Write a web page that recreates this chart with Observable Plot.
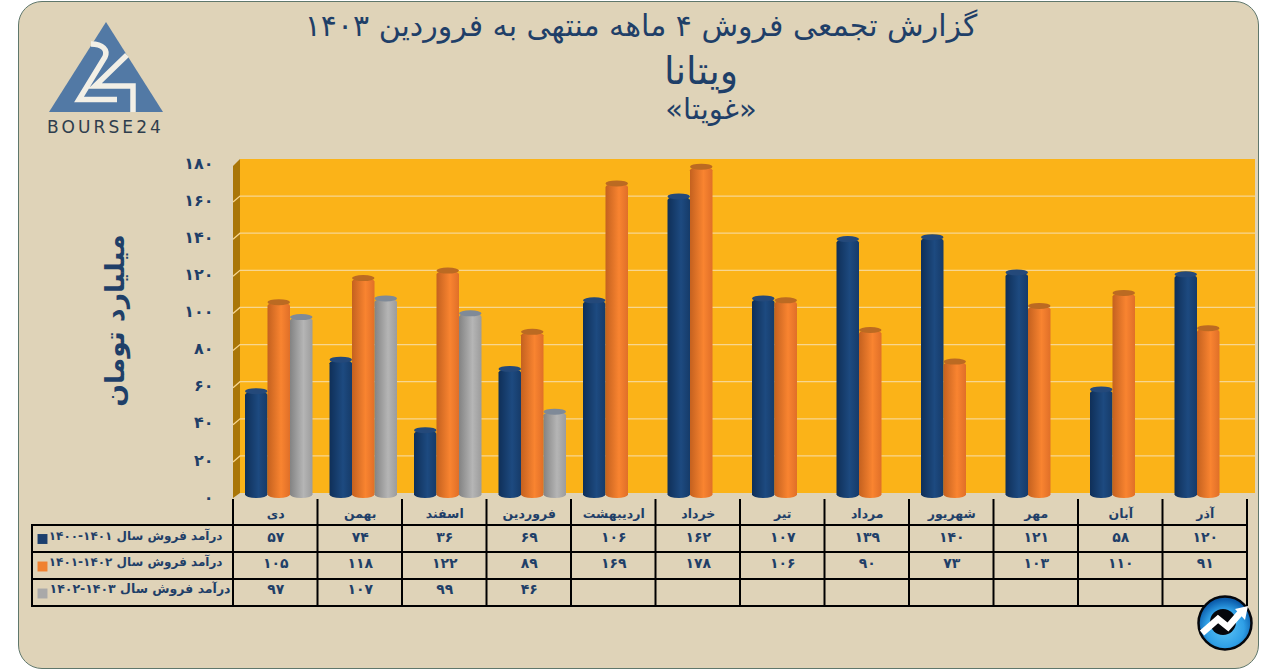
<!doctype html>
<html lang="fa"><head><meta charset="utf-8">
<script src="https://cdn.jsdelivr.net/npm/d3@7"></script>
<script src="https://cdn.jsdelivr.net/npm/@observablehq/plot@0.6"></script>
<style>
html,body{margin:0;padding:0;background:#fff;width:1271px;height:669px;overflow:hidden}
#page{position:relative;width:1271px;height:669px;font-family:"DejaVu Sans",sans-serif;color:#1f3f68}
#card{position:absolute;left:18px;top:1px;width:1241px;height:668px;background:#dfd3b8;border:1.5px solid #5f776c;border-radius:24px;box-sizing:border-box}
.t{position:absolute;white-space:nowrap;transform:translateX(-50%);line-height:1;color:#1f3f68;font-weight:400}
#plot{position:absolute;left:0;top:150px}
#plot svg{display:block;background:transparent;overflow:visible}
.deco{position:absolute;left:0;top:0;pointer-events:none}
</style></head><body>
<div id="page">
<div id="card"></div>
<div class="t" id="t1" style="left:641px;top:11px;font-size:30px"></div>
<div class="t" id="t2" style="left:701px;top:52px;font-size:38px"></div>
<div class="t" id="t3" style="left:711px;top:95px;font-size:29px"></div>
<div id="plot"></div>
<svg class="deco" width="1271" height="669" style="font-family:'DejaVu Sans'">
  <defs><radialGradient id="bdg" cx="50%" cy="60%" r="55%"><stop offset="0" stop-color="#5cc4f5"/><stop offset=".65" stop-color="#2f9fe6"/><stop offset="1" stop-color="#0b5cab"/></radialGradient></defs>
  <path d="M106 22L163 112H49Z" fill="#5279a5"/>
  <path d="M91 44C103 44 108 50 105 57L79 99.500H117M127 55L95 86H133V112" fill="none" stroke="#f2efe6" stroke-width="5.500"/>
  <text x="105.500" y="133" text-anchor="middle" font-size="17" letter-spacing="3.100" fill="#2e3d4d">BOURSE24</text>
  <circle cx="1225" cy="623" r="26.500" fill="url(#bdg)" stroke="#05070c" stroke-width="2.500"/>
  <circle cx="1223" cy="622" r="13" fill="#05070c"/>
  <path d="M1202 633L1218 619L1228 627L1241 612" fill="none" stroke="#fff" stroke-width="6.500"/>
  <path d="M1235 609L1248 606L1245 620Z" fill="#fff"/>
</svg>
</div>
<script>
// Data
const months = ["دی","بهمن","اسفند","فروردین","اردیبهشت","خرداد","تیر","مرداد","شهریور","مهر","آبان","آذر"];
const sales1400 = [57,74,36,69,106,162,107,139,140,121,58,120];
const sales1401 = [105,118,122,89,169,178,106,90,73,103,110,91];
const sales1402 = [97,107,99,46];
const seriesNames = ["درآمد فروش سال ۱۴۰۱-۱۴۰۰","درآمد فروش سال ۱۴۰۲-۱۴۰۱","درآمد فروش سال ۱۴۰۳-۱۴۰۲"];
const seriesColors = ["#1c3f6e","#f0812f","#a9a9a9"];
const yTicks = [0,20,40,60,80,100,120,140,160,180];
const titleText = "گزارش تجمعی فروش ۴ ماهه منتهی به فروردین ۱۴۰۳";
const nameText = "ویتانا";
const tickerText = "«غویتا»";
const axisLabel = "میلیارد تومان";

document.getElementById("t1").textContent = titleText;
document.getElementById("t2").textContent = nameText;
document.getElementById("t3").textContent = tickerText;

const fa = d => String(d).replace(/\d/g, c => "۰۱۲۳۴۵۶۷۸۹"[c]);
const ink = "#1f3f68";
const series = [sales1400, sales1401, sales1402];
const slots = [[12,50],[34.5,27.5],[57,5]];
const caps = ["#24497a","#bb6a22","#7f8a98"];
const rowDy = [378,404,430];
const headerDy = 354;

const room = (index, {y}, values, dims) => {
  const g = d3.create("svg:g");
  const top = y(180), bot = y(0);
  g.append("path").attr("d",`M240 ${top}H1255V${bot}H240Z`).attr("fill","#fbb318");
  g.append("path").attr("d",`M233 ${top+7}L240 ${top}V${bot}L233 ${bot+5}Z`).attr("fill","#a97608");
  for (const t of yTicks.slice(1,-1)) {
    g.append("path").attr("d",`M233 ${y(t)+6}L240 ${y(t)}H1255`).attr("fill","none").attr("stroke","#f7d690").attr("stroke-width",1.3);
  }
  return g.node();
};
const grid = (index, {x}, values, dims) => {
  const g = d3.create("svg:g").attr("stroke","#000").attr("stroke-width",2).attr("fill","none");
  const bw = x(months[1]) - x(months[0]), top = dims.marginTop;
  const right = x(months[11]) + bw;
  for (const dy of [366,393,420,447]) g.append("path").attr("d",`M31 ${top+dy}H${right+1}`);
  for (const m of months) g.append("path").attr("d",`M${x(m)} ${top+340}V${top+447}`);
  g.append("path").attr("d",`M${right} ${top+340}V${top+447}`);
  g.append("path").attr("d",`M32 ${top+366}V${top+447}`);
  return g.node();
};

const barMarks = series.flatMap((vals, s) => {
  const data = vals.map((v,i)=>({month:months[i],v}));
  const [insetLeft,insetRight] = slots[s];
  return [
    Plot.barY(data,{x:"month",y1:0,y2:"v",insetLeft,insetRight,insetTop:4,insetBottom:-5,rx:11,ry:3.5,fill:`url(#cyl${s})`}),
    Plot.barY(data,{x:"month",y1:"v",y2:"v",dy:4,insetLeft,insetRight,insetTop:-3,insetBottom:-3,rx:11,ry:3,fill:caps[s]})
  ];
});

const tableMarks = [
  Plot.text(months,{x:d=>d,text:d=>d,frameAnchor:"top",lineAnchor:"middle",dy:headerDy,fontSize:12.5,fontWeight:700,fill:ink}),
  ...series.map((vals,s)=>Plot.text(vals.map((v,i)=>({month:months[i],v})),{x:"month",text:d=>fa(d.v),frameAnchor:"top",lineAnchor:"middle",dy:rowDy[s],fontSize:14,fontWeight:700,fill:ink})),
  ...seriesNames.map((n,s)=>Plot.text([n],{text:d=>d,frameAnchor:"top-left",lineAnchor:"middle",textAnchor:"end",dx:s===2?-3:-11,dy:rowDy[s]-1,fontSize:s===2?12.5:12,fontWeight:700,fill:ink})),
  ...seriesColors.map((c,s)=>Plot.dot([c],{frameAnchor:"top-left",dx:-191,dy:[379.5,407,434][s],symbol:"square",r:5.6,fill:seriesColors[s]}))
];

const chart = Plot.plot({
  width:1271, height:480,
  marginTop:9, marginBottom:137, marginLeft:233, marginRight:24,
  x:{domain:months,range:[233,1247],padding:0,round:false,axis:null},
  y:{domain:[0,180],range:[343,9],axis:null},
  style:{background:"transparent",fontFamily:"DejaVu Sans",overflow:"visible"},
  marks:[
    room,
    ...barMarks,
    Plot.axisY(yTicks,{tickFormat:fa,tickSize:0,tickPadding:20,dy:4,fontSize:16,fontWeight:700,fill:ink,label:null}),
    Plot.text([axisLabel],{text:d=>d,frameAnchor:"left",textAnchor:"middle",lineAnchor:"middle",dx:-118,dy:-6,rotate:-90,fontSize:26.5,fontWeight:700,fill:ink}),
    grid,
    ...tableMarks
  ]
});
const defs = d3.select(chart).insert("svg:defs",":first-child");
const stops = [["#0f2f58","#1d4a80","#163b69"],["#c4611f","#f98430","#e06f28"],["#838383","#b5b5b5","#9c9c9c"]];
stops.forEach((st,i)=>{
  const g = defs.append("linearGradient").attr("id","cyl"+i).attr("x1",0).attr("x2",1).attr("y1",0).attr("y2",0);
  [[0,st[0]],[.6,st[1]],[1,st[2]]].forEach(([o,c])=>g.append("stop").attr("offset",o).attr("stop-color",c));
});
document.getElementById("plot").append(chart);
</script>
</body></html>
